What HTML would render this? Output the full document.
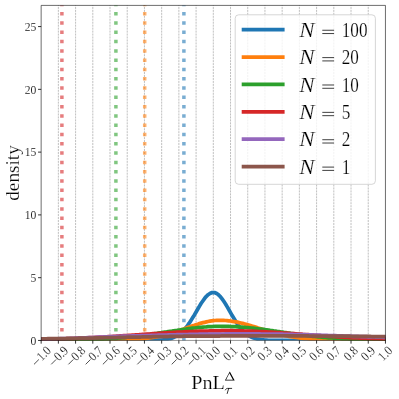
<!DOCTYPE html>
<html><head><meta charset="utf-8"><title>density</title>
<style>
html,body{margin:0;padding:0;background:#fff;}
body{width:399px;height:399px;overflow:hidden;font-family:"Liberation Serif",serif;}
svg{display:block;will-change:transform;}
text{font-family:"Liberation Serif",serif;fill:#000;stroke:#fff;stroke-width:0.2px;}
.t{stroke-width:0.16px;}
</style></head><body>
<svg width="399" height="399" viewBox="0 0 399 399">
<rect width="399" height="399" fill="#fff"/>
<defs><clipPath id="ax"><rect x="41.15" y="5.4" width="344.3" height="335.05"/></clipPath></defs>

<g stroke="#969696" stroke-width="0.6" stroke-dasharray="2.07 0.89" fill="none">
<line x1="58.36" y1="340.45" x2="58.36" y2="5.4"/>
<line x1="75.58" y1="340.45" x2="75.58" y2="5.4"/>
<line x1="92.80" y1="340.45" x2="92.80" y2="5.4"/>
<line x1="110.01" y1="340.45" x2="110.01" y2="5.4"/>
<line x1="127.22" y1="340.45" x2="127.22" y2="5.4"/>
<line x1="144.44" y1="340.45" x2="144.44" y2="5.4"/>
<line x1="161.66" y1="340.45" x2="161.66" y2="5.4"/>
<line x1="178.87" y1="340.45" x2="178.87" y2="5.4"/>
<line x1="196.09" y1="340.45" x2="196.09" y2="5.4"/>
<line x1="213.30" y1="340.45" x2="213.30" y2="5.4"/>
<line x1="230.52" y1="340.45" x2="230.52" y2="5.4"/>
<line x1="247.73" y1="340.45" x2="247.73" y2="5.4"/>
<line x1="264.94" y1="340.45" x2="264.94" y2="5.4"/>
<line x1="282.16" y1="340.45" x2="282.16" y2="5.4"/>
<line x1="299.38" y1="340.45" x2="299.38" y2="5.4"/>
<line x1="316.59" y1="340.45" x2="316.59" y2="5.4"/>
<line x1="333.81" y1="340.45" x2="333.81" y2="5.4"/>
<line x1="351.02" y1="340.45" x2="351.02" y2="5.4"/>
<line x1="368.24" y1="340.45" x2="368.24" y2="5.4"/>
</g>
<g clip-path="url(#ax)" fill="none">
<line x1="61.9" y1="340.75" x2="61.9" y2="0.40000000000000036" stroke="#d62728" stroke-opacity="0.6" stroke-width="3.5" stroke-dasharray="3.5 5.794"/>
<line x1="115.9" y1="340.75" x2="115.9" y2="0.40000000000000036" stroke="#2ca02c" stroke-opacity="0.6" stroke-width="3.5" stroke-dasharray="3.5 5.794"/>
<line x1="144.7" y1="340.75" x2="144.7" y2="0.40000000000000036" stroke="#ff7f0e" stroke-opacity="0.6" stroke-width="3.5" stroke-dasharray="3.5 5.794"/>
<line x1="183.9" y1="340.75" x2="183.9" y2="0.40000000000000036" stroke="#1f77b4" stroke-opacity="0.6" stroke-width="3.5" stroke-dasharray="3.5 5.794"/>
<path d="M34.3,340.4 L36.0,340.4 L37.7,340.4 L39.4,340.4 L41.1,340.4 L42.9,340.4 L44.6,340.4 L46.3,340.4 L48.0,340.4 L49.8,340.4 L51.5,340.4 L53.2,340.4 L54.9,340.4 L56.6,340.4 L58.4,340.4 L60.1,340.4 L61.8,340.4 L63.5,340.4 L65.3,340.4 L67.0,340.4 L68.7,340.4 L70.4,340.4 L72.1,340.4 L73.9,340.4 L75.6,340.4 L77.3,340.4 L79.0,340.4 L80.7,340.4 L82.5,340.4 L84.2,340.4 L85.9,340.4 L87.6,340.4 L89.4,340.4 L91.1,340.4 L92.8,340.4 L94.5,340.4 L96.2,340.4 L98.0,340.4 L99.7,340.4 L101.4,340.4 L103.1,340.4 L104.8,340.4 L106.6,340.4 L108.3,340.4 L110.0,340.4 L111.7,340.4 L113.5,340.4 L115.2,340.4 L116.9,340.4 L118.6,340.4 L120.3,340.4 L122.1,340.4 L123.8,340.4 L125.5,340.4 L127.2,340.4 L128.9,340.4 L130.7,340.4 L132.4,340.4 L134.1,340.4 L135.8,340.4 L137.6,340.4 L139.3,340.4 L141.0,340.4 L142.7,340.4 L144.4,340.4 L146.2,340.4 L147.9,340.4 L149.6,340.4 L151.3,340.4 L153.0,340.4 L154.8,340.3 L156.5,340.3 L158.2,340.2 L159.9,340.1 L161.7,340.0 L163.4,339.8 L165.1,339.6 L166.8,339.4 L168.5,339.0 L170.3,338.6 L172.0,338.1 L173.7,337.4 L175.4,336.6 L177.1,335.6 L178.9,334.5 L180.6,333.1 L182.3,331.6 L184.0,329.8 L185.8,327.8 L187.5,325.6 L189.2,323.2 L190.9,320.6 L192.6,317.8 L194.4,314.9 L196.1,312.0 L197.8,309.0 L199.5,306.1 L201.2,303.3 L203.0,300.7 L204.7,298.3 L206.4,296.3 L208.1,294.7 L209.9,293.5 L211.6,292.7 L213.3,292.5 L215.0,292.7 L216.7,293.5 L218.5,294.8 L220.2,296.5 L221.9,298.6 L223.6,301.0 L225.4,303.7 L227.1,306.6 L228.8,309.5 L230.5,312.6 L232.2,315.6 L234.0,318.5 L235.7,321.3 L237.4,323.9 L239.1,326.3 L240.8,328.5 L242.6,330.5 L244.3,332.2 L246.0,333.7 L247.7,335.0 L249.5,336.1 L251.2,337.0 L252.9,337.7 L254.6,338.3 L256.3,338.8 L258.1,339.2 L259.8,339.5 L261.5,339.8 L263.2,339.9 L264.9,340.1 L266.7,340.2 L268.4,340.3 L270.1,340.3 L271.8,340.4 L273.6,340.4 L275.3,340.4 L277.0,340.4 L278.7,340.4 L280.4,340.4 L282.2,340.4 L283.9,340.4 L285.6,340.4 L287.3,340.4 L289.0,340.4 L290.8,340.4 L292.5,340.4 L294.2,340.4 L295.9,340.4 L297.7,340.4 L299.4,340.4 L301.1,340.4 L302.8,340.4 L304.5,340.4 L306.3,340.4 L308.0,340.4 L309.7,340.4 L311.4,340.4 L313.1,340.4 L314.9,340.4 L316.6,340.4 L318.3,340.4 L320.0,340.4 L321.8,340.4 L323.5,340.4 L325.2,340.4 L326.9,340.4 L328.6,340.4 L330.4,340.4 L332.1,340.4 L333.8,340.4 L335.5,340.4 L337.2,340.4 L339.0,340.4 L340.7,340.4 L342.4,340.4 L344.1,340.4 L345.9,340.4 L347.6,340.4 L349.3,340.4 L351.0,340.4 L352.7,340.4 L354.5,340.4 L356.2,340.4 L357.9,340.4 L359.6,340.4 L361.3,340.4 L363.1,340.4 L364.8,340.4 L366.5,340.4 L368.2,340.4 L370.0,340.4 L371.7,340.4 L373.4,340.4 L375.1,340.4 L376.8,340.4 L378.6,340.4 L380.3,340.4 L382.0,340.4 L383.7,340.4 L385.4,340.4 L387.2,340.4 L388.9,340.4 L390.6,340.4 L392.3,340.4" stroke="#1f77b4" stroke-width="3.75" stroke-linejoin="round" fill="none"/>
<path d="M34.3,340.4 L36.0,340.4 L37.7,340.4 L39.4,340.4 L41.1,340.4 L42.9,340.4 L44.6,340.4 L46.3,340.4 L48.0,340.4 L49.8,340.4 L51.5,340.4 L53.2,340.4 L54.9,340.4 L56.6,340.4 L58.4,340.4 L60.1,340.4 L61.8,340.4 L63.5,340.4 L65.3,340.4 L67.0,340.4 L68.7,340.4 L70.4,340.4 L72.1,340.4 L73.9,340.4 L75.6,340.4 L77.3,340.4 L79.0,340.4 L80.7,340.4 L82.5,340.4 L84.2,340.4 L85.9,340.4 L87.6,340.4 L89.4,340.4 L91.1,340.4 L92.8,340.4 L94.5,340.4 L96.2,340.4 L98.0,340.4 L99.7,340.4 L101.4,340.4 L103.1,340.4 L104.8,340.4 L106.6,340.4 L108.3,340.3 L110.0,340.3 L111.7,340.3 L113.5,340.3 L115.2,340.3 L116.9,340.2 L118.6,340.2 L120.3,340.1 L122.1,340.1 L123.8,340.1 L125.5,340.0 L127.2,339.9 L128.9,339.8 L130.7,339.8 L132.4,339.7 L134.1,339.6 L135.8,339.4 L137.6,339.3 L139.3,339.2 L141.0,339.0 L142.7,338.8 L144.4,338.7 L146.2,338.5 L147.9,338.2 L149.6,338.0 L151.3,337.7 L153.0,337.4 L154.8,337.1 L156.5,336.8 L158.2,336.5 L159.9,336.1 L161.7,335.7 L163.4,335.3 L165.1,334.9 L166.8,334.4 L168.5,333.9 L170.3,333.4 L172.0,332.9 L173.7,332.4 L175.4,331.8 L177.1,331.2 L178.9,330.7 L180.6,330.1 L182.3,329.5 L184.0,328.9 L185.8,328.2 L187.5,327.6 L189.2,327.0 L190.9,326.4 L192.6,325.8 L194.4,325.3 L196.1,324.7 L197.8,324.2 L199.5,323.6 L201.2,323.1 L203.0,322.7 L204.7,322.3 L206.4,321.9 L208.1,321.5 L209.9,321.2 L211.6,320.9 L213.3,320.7 L215.0,320.5 L216.7,320.4 L218.5,320.3 L220.2,320.3 L221.9,320.3 L223.6,320.4 L225.4,320.5 L227.1,320.6 L228.8,320.8 L230.5,321.0 L232.2,321.3 L234.0,321.6 L235.7,321.9 L237.4,322.2 L239.1,322.6 L240.8,323.0 L242.6,323.4 L244.3,323.9 L246.0,324.3 L247.7,324.8 L249.5,325.3 L251.2,325.8 L252.9,326.4 L254.6,326.9 L256.3,327.4 L258.1,328.0 L259.8,328.5 L261.5,329.1 L263.2,329.6 L264.9,330.1 L266.7,330.7 L268.4,331.2 L270.1,331.7 L271.8,332.2 L273.6,332.7 L275.3,333.1 L277.0,333.6 L278.7,334.0 L280.4,334.4 L282.2,334.9 L283.9,335.2 L285.6,335.6 L287.3,336.0 L289.0,336.3 L290.8,336.6 L292.5,336.9 L294.2,337.2 L295.9,337.5 L297.7,337.7 L299.4,338.0 L301.1,338.2 L302.8,338.4 L304.5,338.6 L306.3,338.7 L308.0,338.9 L309.7,339.1 L311.4,339.2 L313.1,339.3 L314.9,339.4 L316.6,339.5 L318.3,339.6 L320.0,339.7 L321.8,339.8 L323.5,339.9 L325.2,339.9 L326.9,340.0 L328.6,340.1 L330.4,340.1 L332.1,340.1 L333.8,340.2 L335.5,340.2 L337.2,340.2 L339.0,340.3 L340.7,340.3 L342.4,340.3 L344.1,340.3 L345.9,340.3 L347.6,340.4 L349.3,340.4 L351.0,340.4 L352.7,340.4 L354.5,340.4 L356.2,340.4 L357.9,340.4 L359.6,340.4 L361.3,340.4 L363.1,340.4 L364.8,340.4 L366.5,340.4 L368.2,340.4 L370.0,340.4 L371.7,340.4 L373.4,340.4 L375.1,340.4 L376.8,340.4 L378.6,340.4 L380.3,340.4 L382.0,340.4 L383.7,340.4 L385.4,340.4 L387.2,340.4 L388.9,340.4 L390.6,340.4 L392.3,340.4" stroke="#ff7f0e" stroke-width="3.75" stroke-linejoin="round" fill="none"/>
<path d="M34.3,340.4 L36.0,340.4 L37.7,340.4 L39.4,340.4 L41.1,340.4 L42.9,340.4 L44.6,340.4 L46.3,340.4 L48.0,340.4 L49.8,340.3 L51.5,340.3 L53.2,340.3 L54.9,340.3 L56.6,340.3 L58.4,340.3 L60.1,340.3 L61.8,340.2 L63.5,340.2 L65.3,340.2 L67.0,340.2 L68.7,340.2 L70.4,340.1 L72.1,340.1 L73.9,340.1 L75.6,340.0 L77.3,340.0 L79.0,340.0 L80.7,339.9 L82.5,339.9 L84.2,339.8 L85.9,339.8 L87.6,339.7 L89.4,339.7 L91.1,339.6 L92.8,339.5 L94.5,339.5 L96.2,339.4 L98.0,339.3 L99.7,339.2 L101.4,339.2 L103.1,339.1 L104.8,339.0 L106.6,338.9 L108.3,338.8 L110.0,338.7 L111.7,338.5 L113.5,338.4 L115.2,338.3 L116.9,338.2 L118.6,338.0 L120.3,337.9 L122.1,337.7 L123.8,337.6 L125.5,337.4 L127.2,337.2 L128.9,337.0 L130.7,336.9 L132.4,336.7 L134.1,336.5 L135.8,336.3 L137.6,336.1 L139.3,335.9 L141.0,335.6 L142.7,335.4 L144.4,335.2 L146.2,335.0 L147.9,334.7 L149.6,334.5 L151.3,334.2 L153.0,334.0 L154.8,333.7 L156.5,333.5 L158.2,333.2 L159.9,332.9 L161.7,332.7 L163.4,332.4 L165.1,332.1 L166.8,331.9 L168.5,331.6 L170.3,331.3 L172.0,331.1 L173.7,330.8 L175.4,330.5 L177.1,330.3 L178.9,330.0 L180.6,329.8 L182.3,329.5 L184.0,329.3 L185.8,329.1 L187.5,328.8 L189.2,328.6 L190.9,328.4 L192.6,328.2 L194.4,328.0 L196.1,327.8 L197.8,327.6 L199.5,327.4 L201.2,327.3 L203.0,327.1 L204.7,327.0 L206.4,326.9 L208.1,326.7 L209.9,326.6 L211.6,326.6 L213.3,326.5 L215.0,326.4 L216.7,326.4 L218.5,326.3 L220.2,326.3 L221.9,326.3 L223.6,326.3 L225.4,326.3 L227.1,326.4 L228.8,326.4 L230.5,326.5 L232.2,326.5 L234.0,326.6 L235.7,326.7 L237.4,326.8 L239.1,326.9 L240.8,327.0 L242.6,327.2 L244.3,327.3 L246.0,327.5 L247.7,327.6 L249.5,327.8 L251.2,328.0 L252.9,328.2 L254.6,328.4 L256.3,328.6 L258.1,328.8 L259.8,329.0 L261.5,329.2 L263.2,329.4 L264.9,329.7 L266.7,329.9 L268.4,330.1 L270.1,330.4 L271.8,330.6 L273.6,330.9 L275.3,331.1 L277.0,331.4 L278.7,331.6 L280.4,331.9 L282.2,332.1 L283.9,332.4 L285.6,332.6 L287.3,332.9 L289.0,333.1 L290.8,333.4 L292.5,333.6 L294.2,333.9 L295.9,334.1 L297.7,334.3 L299.4,334.6 L301.1,334.8 L302.8,335.0 L304.5,335.2 L306.3,335.4 L308.0,335.7 L309.7,335.9 L311.4,336.1 L313.1,336.3 L314.9,336.4 L316.6,336.6 L318.3,336.8 L320.0,337.0 L321.8,337.2 L323.5,337.3 L325.2,337.5 L326.9,337.6 L328.6,337.8 L330.4,337.9 L332.1,338.0 L333.8,338.2 L335.5,338.3 L337.2,338.4 L339.0,338.5 L340.7,338.6 L342.4,338.8 L344.1,338.9 L345.9,338.9 L347.6,339.0 L349.3,339.1 L351.0,339.2 L352.7,339.3 L354.5,339.4 L356.2,339.4 L357.9,339.5 L359.6,339.6 L361.3,339.6 L363.1,339.7 L364.8,339.7 L366.5,339.8 L368.2,339.8 L370.0,339.9 L371.7,339.9 L373.4,340.0 L375.1,340.0 L376.8,340.0 L378.6,340.1 L380.3,340.1 L382.0,340.1 L383.7,340.1 L385.4,340.2 L387.2,340.2 L388.9,340.2 L390.6,340.2 L392.3,340.2" stroke="#2ca02c" stroke-width="3.75" stroke-linejoin="round" fill="none"/>
<path d="M34.3,339.7 L36.0,339.6 L37.7,339.6 L39.4,339.5 L41.1,339.5 L42.9,339.5 L44.6,339.4 L46.3,339.4 L48.0,339.3 L49.8,339.3 L51.5,339.2 L53.2,339.2 L54.9,339.1 L56.6,339.1 L58.4,339.0 L60.1,339.0 L61.8,338.9 L63.5,338.8 L65.3,338.8 L67.0,338.7 L68.7,338.7 L70.4,338.6 L72.1,338.5 L73.9,338.5 L75.6,338.4 L77.3,338.3 L79.0,338.2 L80.7,338.2 L82.5,338.1 L84.2,338.0 L85.9,337.9 L87.6,337.8 L89.4,337.7 L91.1,337.7 L92.8,337.6 L94.5,337.5 L96.2,337.4 L98.0,337.3 L99.7,337.2 L101.4,337.1 L103.1,337.0 L104.8,336.9 L106.6,336.8 L108.3,336.7 L110.0,336.6 L111.7,336.5 L113.5,336.4 L115.2,336.3 L116.9,336.2 L118.6,336.1 L120.3,335.9 L122.1,335.8 L123.8,335.7 L125.5,335.6 L127.2,335.5 L128.9,335.4 L130.7,335.3 L132.4,335.1 L134.1,335.0 L135.8,334.9 L137.6,334.8 L139.3,334.7 L141.0,334.5 L142.7,334.4 L144.4,334.3 L146.2,334.2 L147.9,334.1 L149.6,334.0 L151.3,333.8 L153.0,333.7 L154.8,333.6 L156.5,333.5 L158.2,333.4 L159.9,333.3 L161.7,333.2 L163.4,333.1 L165.1,332.9 L166.8,332.8 L168.5,332.7 L170.3,332.6 L172.0,332.5 L173.7,332.4 L175.4,332.3 L177.1,332.2 L178.9,332.1 L180.6,332.0 L182.3,332.0 L184.0,331.9 L185.8,331.8 L187.5,331.7 L189.2,331.6 L190.9,331.5 L192.6,331.5 L194.4,331.4 L196.1,331.3 L197.8,331.3 L199.5,331.2 L201.2,331.1 L203.0,331.1 L204.7,331.0 L206.4,331.0 L208.1,331.0 L209.9,330.9 L211.6,330.9 L213.3,330.8 L215.0,330.8 L216.7,330.8 L218.5,330.8 L220.2,330.8 L221.9,330.7 L223.6,330.7 L225.4,330.7 L227.1,330.7 L228.8,330.7 L230.5,330.7 L232.2,330.7 L234.0,330.8 L235.7,330.8 L237.4,330.8 L239.1,330.8 L240.8,330.9 L242.6,330.9 L244.3,331.0 L246.0,331.0 L247.7,331.1 L249.5,331.1 L251.2,331.2 L252.9,331.2 L254.6,331.3 L256.3,331.4 L258.1,331.5 L259.8,331.5 L261.5,331.6 L263.2,331.7 L264.9,331.8 L266.7,331.9 L268.4,332.0 L270.1,332.1 L271.8,332.2 L273.6,332.3 L275.3,332.4 L277.0,332.5 L278.7,332.6 L280.4,332.7 L282.2,332.9 L283.9,333.0 L285.6,333.1 L287.3,333.2 L289.0,333.3 L290.8,333.5 L292.5,333.6 L294.2,333.7 L295.9,333.8 L297.7,334.0 L299.4,334.1 L301.1,334.2 L302.8,334.4 L304.5,334.5 L306.3,334.6 L308.0,334.7 L309.7,334.9 L311.4,335.0 L313.1,335.1 L314.9,335.3 L316.6,335.4 L318.3,335.5 L320.0,335.6 L321.8,335.8 L323.5,335.9 L325.2,336.0 L326.9,336.1 L328.6,336.3 L330.4,336.4 L332.1,336.5 L333.8,336.6 L335.5,336.7 L337.2,336.8 L339.0,336.9 L340.7,337.1 L342.4,337.2 L344.1,337.3 L345.9,337.4 L347.6,337.5 L349.3,337.6 L351.0,337.7 L352.7,337.8 L354.5,337.9 L356.2,337.9 L357.9,338.0 L359.6,338.1 L361.3,338.2 L363.1,338.3 L364.8,338.4 L366.5,338.5 L368.2,338.5 L370.0,338.6 L371.7,338.7 L373.4,338.8 L375.1,338.8 L376.8,338.9 L378.6,339.0 L380.3,339.0 L382.0,339.1 L383.7,339.1 L385.4,339.2 L387.2,339.2 L388.9,339.3 L390.6,339.3 L392.3,339.4" stroke="#d62728" stroke-width="3.75" stroke-linejoin="round" fill="none"/>
<path d="M34.3,339.3 L36.0,339.3 L37.7,339.3 L39.4,339.2 L41.1,339.2 L42.9,339.2 L44.6,339.1 L46.3,339.1 L48.0,339.0 L49.8,339.0 L51.5,339.0 L53.2,338.9 L54.9,338.9 L56.6,338.8 L58.4,338.8 L60.1,338.7 L61.8,338.7 L63.5,338.6 L65.3,338.6 L67.0,338.5 L68.7,338.5 L70.4,338.4 L72.1,338.4 L73.9,338.3 L75.6,338.2 L77.3,338.2 L79.0,338.1 L80.7,338.0 L82.5,338.0 L84.2,337.9 L85.9,337.8 L87.6,337.7 L89.4,337.6 L91.1,337.6 L92.8,337.5 L94.5,337.4 L96.2,337.3 L98.0,337.2 L99.7,337.1 L101.4,337.1 L103.1,337.0 L104.8,336.9 L106.6,336.8 L108.3,336.8 L110.0,336.7 L111.7,336.6 L113.5,336.5 L115.2,336.5 L116.9,336.4 L118.6,336.4 L120.3,336.3 L122.1,336.2 L123.8,336.2 L125.5,336.1 L127.2,336.1 L128.9,336.0 L130.7,336.0 L132.4,335.9 L134.1,335.9 L135.8,335.8 L137.6,335.8 L139.3,335.8 L141.0,335.7 L142.7,335.7 L144.4,335.6 L146.2,335.6 L147.9,335.5 L149.6,335.5 L151.3,335.4 L153.0,335.4 L154.8,335.3 L156.5,335.3 L158.2,335.2 L159.9,335.2 L161.7,335.1 L163.4,335.1 L165.1,335.0 L166.8,335.0 L168.5,334.9 L170.3,334.9 L172.0,334.9 L173.7,334.8 L175.4,334.8 L177.1,334.7 L178.9,334.7 L180.6,334.6 L182.3,334.6 L184.0,334.6 L185.8,334.5 L187.5,334.5 L189.2,334.4 L190.9,334.4 L192.6,334.4 L194.4,334.3 L196.1,334.3 L197.8,334.3 L199.5,334.2 L201.2,334.2 L203.0,334.2 L204.7,334.2 L206.4,334.1 L208.1,334.1 L209.9,334.1 L211.6,334.1 L213.3,334.0 L215.0,334.0 L216.7,334.0 L218.5,334.0 L220.2,334.0 L221.9,334.0 L223.6,334.0 L225.4,333.9 L227.1,333.9 L228.8,333.9 L230.5,333.9 L232.2,333.9 L234.0,333.9 L235.7,333.9 L237.4,333.9 L239.1,333.9 L240.8,333.9 L242.6,333.9 L244.3,333.9 L246.0,333.9 L247.7,333.9 L249.5,333.9 L251.2,333.9 L252.9,333.9 L254.6,333.9 L256.3,333.9 L258.1,333.9 L259.8,333.9 L261.5,334.0 L263.2,334.0 L264.9,334.0 L266.7,334.0 L268.4,334.0 L270.1,334.0 L271.8,334.1 L273.6,334.1 L275.3,334.1 L277.0,334.1 L278.7,334.2 L280.4,334.2 L282.2,334.2 L283.9,334.3 L285.6,334.3 L287.3,334.3 L289.0,334.4 L290.8,334.4 L292.5,334.4 L294.2,334.5 L295.9,334.5 L297.7,334.6 L299.4,334.6 L301.1,334.7 L302.8,334.7 L304.5,334.7 L306.3,334.8 L308.0,334.8 L309.7,334.9 L311.4,334.9 L313.1,335.0 L314.9,335.0 L316.6,335.1 L318.3,335.1 L320.0,335.2 L321.8,335.3 L323.5,335.3 L325.2,335.4 L326.9,335.4 L328.6,335.5 L330.4,335.5 L332.1,335.6 L333.8,335.6 L335.5,335.7 L337.2,335.8 L339.0,335.8 L340.7,335.9 L342.4,335.9 L344.1,336.0 L345.9,336.0 L347.6,336.1 L349.3,336.2 L351.0,336.2 L352.7,336.3 L354.5,336.3 L356.2,336.4 L357.9,336.4 L359.6,336.5 L361.3,336.6 L363.1,336.6 L364.8,336.7 L366.5,336.7 L368.2,336.8 L370.0,336.8 L371.7,336.9 L373.4,336.9 L375.1,337.0 L376.8,337.0 L378.6,337.1 L380.3,337.2 L382.0,337.2 L383.7,337.3 L385.4,337.3 L387.2,337.4 L388.9,337.4 L390.6,337.5 L392.3,337.5" stroke="#9467bd" stroke-width="3.75" stroke-linejoin="round" fill="none"/>
<path d="M34.3,339.0 L36.0,338.9 L37.7,338.9 L39.4,338.9 L41.1,338.8 L42.9,338.8 L44.6,338.8 L46.3,338.8 L48.0,338.7 L49.8,338.7 L51.5,338.7 L53.2,338.6 L54.9,338.6 L56.6,338.6 L58.4,338.6 L60.1,338.5 L61.8,338.5 L63.5,338.5 L65.3,338.5 L67.0,338.4 L68.7,338.4 L70.4,338.4 L72.1,338.3 L73.9,338.3 L75.6,338.3 L77.3,338.3 L79.0,338.2 L80.7,338.2 L82.5,338.2 L84.2,338.1 L85.9,338.1 L87.6,338.1 L89.4,338.0 L91.1,338.0 L92.8,338.0 L94.5,337.9 L96.2,337.9 L98.0,337.9 L99.7,337.8 L101.4,337.8 L103.1,337.8 L104.8,337.7 L106.6,337.7 L108.3,337.6 L110.0,337.6 L111.7,337.6 L113.5,337.5 L115.2,337.5 L116.9,337.5 L118.6,337.4 L120.3,337.4 L122.1,337.4 L123.8,337.3 L125.5,337.3 L127.2,337.2 L128.9,337.2 L130.7,337.2 L132.4,337.1 L134.1,337.1 L135.8,337.1 L137.6,337.0 L139.3,337.0 L141.0,337.0 L142.7,336.9 L144.4,336.9 L146.2,336.9 L147.9,336.8 L149.6,336.8 L151.3,336.8 L153.0,336.7 L154.8,336.7 L156.5,336.7 L158.2,336.6 L159.9,336.6 L161.7,336.6 L163.4,336.5 L165.1,336.5 L166.8,336.5 L168.5,336.5 L170.3,336.4 L172.0,336.4 L173.7,336.4 L175.4,336.4 L177.1,336.3 L178.9,336.3 L180.6,336.3 L182.3,336.3 L184.0,336.2 L185.8,336.2 L187.5,336.2 L189.2,336.2 L190.9,336.2 L192.6,336.2 L194.4,336.1 L196.1,336.1 L197.8,336.1 L199.5,336.1 L201.2,336.1 L203.0,336.1 L204.7,336.0 L206.4,336.0 L208.1,336.0 L209.9,336.0 L211.6,336.0 L213.3,336.0 L215.0,336.0 L216.7,336.0 L218.5,336.0 L220.2,336.0 L221.9,335.9 L223.6,335.9 L225.4,335.9 L227.1,335.9 L228.8,335.9 L230.5,335.9 L232.2,335.9 L234.0,335.9 L235.7,335.9 L237.4,335.9 L239.1,335.9 L240.8,335.9 L242.6,335.9 L244.3,335.9 L246.0,335.9 L247.7,335.9 L249.5,335.9 L251.2,335.9 L252.9,335.9 L254.6,335.9 L256.3,335.9 L258.1,335.9 L259.8,335.9 L261.5,335.9 L263.2,335.9 L264.9,335.9 L266.7,335.9 L268.4,335.9 L270.1,335.9 L271.8,335.9 L273.6,335.9 L275.3,335.9 L277.0,335.9 L278.7,335.9 L280.4,335.9 L282.2,335.9 L283.9,335.9 L285.6,335.9 L287.3,335.9 L289.0,335.9 L290.8,335.9 L292.5,335.9 L294.2,335.9 L295.9,335.9 L297.7,335.9 L299.4,335.9 L301.1,335.9 L302.8,335.9 L304.5,335.9 L306.3,335.9 L308.0,335.9 L309.7,336.0 L311.4,336.0 L313.1,336.0 L314.9,336.0 L316.6,336.0 L318.3,336.0 L320.0,336.0 L321.8,336.0 L323.5,336.0 L325.2,336.0 L326.9,336.1 L328.6,336.1 L330.4,336.1 L332.1,336.1 L333.8,336.1 L335.5,336.1 L337.2,336.1 L339.0,336.2 L340.7,336.2 L342.4,336.2 L344.1,336.2 L345.9,336.2 L347.6,336.2 L349.3,336.2 L351.0,336.3 L352.7,336.3 L354.5,336.3 L356.2,336.3 L357.9,336.3 L359.6,336.3 L361.3,336.4 L363.1,336.4 L364.8,336.4 L366.5,336.4 L368.2,336.4 L370.0,336.4 L371.7,336.5 L373.4,336.5 L375.1,336.5 L376.8,336.5 L378.6,336.5 L380.3,336.6 L382.0,336.6 L383.7,336.6 L385.4,336.6 L387.2,336.6 L388.9,336.6 L390.6,336.7 L392.3,336.7" stroke="#8c564b" stroke-width="3.75" stroke-linejoin="round" fill="none"/>
</g>
<path d="M41.15,340.84999999999997V5.4H385.45V340.84999999999997" fill="none" stroke="#000" stroke-opacity="0.72" stroke-width="0.8"/>
<path d="M40.75,340.45H385.84999999999997" fill="none" stroke="#000" stroke-opacity="0.5" stroke-width="0.8"/>
<g stroke="#000" stroke-width="0.8">
<line x1="41.15" y1="340.45" x2="41.15" y2="343.65"/>
<line x1="58.36" y1="340.45" x2="58.36" y2="343.65"/>
<line x1="75.58" y1="340.45" x2="75.58" y2="343.65"/>
<line x1="92.80" y1="340.45" x2="92.80" y2="343.65"/>
<line x1="110.01" y1="340.45" x2="110.01" y2="343.65"/>
<line x1="127.22" y1="340.45" x2="127.22" y2="343.65"/>
<line x1="144.44" y1="340.45" x2="144.44" y2="343.65"/>
<line x1="161.66" y1="340.45" x2="161.66" y2="343.65"/>
<line x1="178.87" y1="340.45" x2="178.87" y2="343.65"/>
<line x1="196.09" y1="340.45" x2="196.09" y2="343.65"/>
<line x1="213.30" y1="340.45" x2="213.30" y2="343.65"/>
<line x1="230.52" y1="340.45" x2="230.52" y2="343.65"/>
<line x1="247.73" y1="340.45" x2="247.73" y2="343.65"/>
<line x1="264.94" y1="340.45" x2="264.94" y2="343.65"/>
<line x1="282.16" y1="340.45" x2="282.16" y2="343.65"/>
<line x1="299.38" y1="340.45" x2="299.38" y2="343.65"/>
<line x1="316.59" y1="340.45" x2="316.59" y2="343.65"/>
<line x1="333.81" y1="340.45" x2="333.81" y2="343.65"/>
<line x1="351.02" y1="340.45" x2="351.02" y2="343.65"/>
<line x1="368.24" y1="340.45" x2="368.24" y2="343.65"/>
<line x1="385.45" y1="340.45" x2="385.45" y2="343.65"/>
<line x1="41.15" y1="340.45" x2="38.05" y2="340.45"/>
<line x1="41.15" y1="277.68" x2="38.05" y2="277.68"/>
<line x1="41.15" y1="214.90" x2="38.05" y2="214.90"/>
<line x1="41.15" y1="152.12" x2="38.05" y2="152.12"/>
<line x1="41.15" y1="89.35" x2="38.05" y2="89.35"/>
<line x1="41.15" y1="26.57" x2="38.05" y2="26.57"/>
</g>
<text class="t" x="30.50" y="344.70" font-size="13.1" textLength="5.8" lengthAdjust="spacingAndGlyphs">0</text>
<text class="t" x="30.50" y="281.93" font-size="13.1" textLength="5.8" lengthAdjust="spacingAndGlyphs">5</text>
<text class="t" x="24.70" y="219.15" font-size="13.1" textLength="11.6" lengthAdjust="spacingAndGlyphs">10</text>
<text class="t" x="24.70" y="156.38" font-size="13.1" textLength="11.6" lengthAdjust="spacingAndGlyphs">15</text>
<text class="t" x="24.70" y="93.60" font-size="13.1" textLength="11.6" lengthAdjust="spacingAndGlyphs">20</text>
<text class="t" x="24.70" y="30.82" font-size="13.1" textLength="11.6" lengthAdjust="spacingAndGlyphs">25</text>
<g transform="translate(40.75,356.33) rotate(-45)"><line x1="-10.45" y1="0.9" x2="-3.55" y2="0.9" stroke="#000" stroke-width="0.65"/><text class="t" x="-2.95" y="4.35" font-size="13.1" textLength="14.2" lengthAdjust="spacingAndGlyphs">1.0</text></g>
<g transform="translate(57.96,356.33) rotate(-45)"><line x1="-10.45" y1="0.9" x2="-3.55" y2="0.9" stroke="#000" stroke-width="0.65"/><text class="t" x="-2.95" y="4.35" font-size="13.1" textLength="14.2" lengthAdjust="spacingAndGlyphs">0.9</text></g>
<g transform="translate(75.18,356.33) rotate(-45)"><line x1="-10.45" y1="0.9" x2="-3.55" y2="0.9" stroke="#000" stroke-width="0.65"/><text class="t" x="-2.95" y="4.35" font-size="13.1" textLength="14.2" lengthAdjust="spacingAndGlyphs">0.8</text></g>
<g transform="translate(92.40,356.33) rotate(-45)"><line x1="-10.45" y1="0.9" x2="-3.55" y2="0.9" stroke="#000" stroke-width="0.65"/><text class="t" x="-2.95" y="4.35" font-size="13.1" textLength="14.2" lengthAdjust="spacingAndGlyphs">0.7</text></g>
<g transform="translate(109.61,356.33) rotate(-45)"><line x1="-10.45" y1="0.9" x2="-3.55" y2="0.9" stroke="#000" stroke-width="0.65"/><text class="t" x="-2.95" y="4.35" font-size="13.1" textLength="14.2" lengthAdjust="spacingAndGlyphs">0.6</text></g>
<g transform="translate(126.82,356.33) rotate(-45)"><line x1="-10.45" y1="0.9" x2="-3.55" y2="0.9" stroke="#000" stroke-width="0.65"/><text class="t" x="-2.95" y="4.35" font-size="13.1" textLength="14.2" lengthAdjust="spacingAndGlyphs">0.5</text></g>
<g transform="translate(144.04,356.33) rotate(-45)"><line x1="-10.45" y1="0.9" x2="-3.55" y2="0.9" stroke="#000" stroke-width="0.65"/><text class="t" x="-2.95" y="4.35" font-size="13.1" textLength="14.2" lengthAdjust="spacingAndGlyphs">0.4</text></g>
<g transform="translate(161.25,356.33) rotate(-45)"><line x1="-10.45" y1="0.9" x2="-3.55" y2="0.9" stroke="#000" stroke-width="0.65"/><text class="t" x="-2.95" y="4.35" font-size="13.1" textLength="14.2" lengthAdjust="spacingAndGlyphs">0.3</text></g>
<g transform="translate(178.47,356.33) rotate(-45)"><line x1="-10.45" y1="0.9" x2="-3.55" y2="0.9" stroke="#000" stroke-width="0.65"/><text class="t" x="-2.95" y="4.35" font-size="13.1" textLength="14.2" lengthAdjust="spacingAndGlyphs">0.2</text></g>
<g transform="translate(195.69,356.33) rotate(-45)"><line x1="-10.45" y1="0.9" x2="-3.55" y2="0.9" stroke="#000" stroke-width="0.65"/><text class="t" x="-2.95" y="4.35" font-size="13.1" textLength="14.2" lengthAdjust="spacingAndGlyphs">0.1</text></g>
<g transform="translate(212.90,353.40) rotate(-45)"><text class="t" x="-7.10" y="4.35" font-size="13.1" textLength="14.2" lengthAdjust="spacingAndGlyphs">0.0</text></g>
<g transform="translate(230.12,353.40) rotate(-45)"><text class="t" x="-7.10" y="4.35" font-size="13.1" textLength="14.2" lengthAdjust="spacingAndGlyphs">0.1</text></g>
<g transform="translate(247.33,353.40) rotate(-45)"><text class="t" x="-7.10" y="4.35" font-size="13.1" textLength="14.2" lengthAdjust="spacingAndGlyphs">0.2</text></g>
<g transform="translate(264.55,353.40) rotate(-45)"><text class="t" x="-7.10" y="4.35" font-size="13.1" textLength="14.2" lengthAdjust="spacingAndGlyphs">0.3</text></g>
<g transform="translate(281.76,353.40) rotate(-45)"><text class="t" x="-7.10" y="4.35" font-size="13.1" textLength="14.2" lengthAdjust="spacingAndGlyphs">0.4</text></g>
<g transform="translate(298.98,353.40) rotate(-45)"><text class="t" x="-7.10" y="4.35" font-size="13.1" textLength="14.2" lengthAdjust="spacingAndGlyphs">0.5</text></g>
<g transform="translate(316.19,353.40) rotate(-45)"><text class="t" x="-7.10" y="4.35" font-size="13.1" textLength="14.2" lengthAdjust="spacingAndGlyphs">0.6</text></g>
<g transform="translate(333.41,353.40) rotate(-45)"><text class="t" x="-7.10" y="4.35" font-size="13.1" textLength="14.2" lengthAdjust="spacingAndGlyphs">0.7</text></g>
<g transform="translate(350.62,353.40) rotate(-45)"><text class="t" x="-7.10" y="4.35" font-size="13.1" textLength="14.2" lengthAdjust="spacingAndGlyphs">0.8</text></g>
<g transform="translate(367.84,353.40) rotate(-45)"><text class="t" x="-7.10" y="4.35" font-size="13.1" textLength="14.2" lengthAdjust="spacingAndGlyphs">0.9</text></g>
<g transform="translate(385.05,353.40) rotate(-45)"><text class="t" x="-7.10" y="4.35" font-size="13.1" textLength="14.2" lengthAdjust="spacingAndGlyphs">1.0</text></g>
<text transform="translate(18.8,173) rotate(-90)" x="0" y="0" font-size="18.1" text-anchor="middle" textLength="55.5" lengthAdjust="spacingAndGlyphs">density</text>
<text x="191.2" y="388.9" font-size="19.8" textLength="33.6" lengthAdjust="spacingAndGlyphs">PnL</text>
<path d="M224.9,380.4L229.8,371.4L234.7,380.4ZM226.1,379.75L232.9,379.75L229.4,373.2Z" fill="#000" fill-rule="evenodd"/>
<path d="M225.4,389.9C225.9,388.9 226.5,388.4 227.5,388.4L231.7,388.4M228.7,388.4L227.2,393.5" fill="none" stroke="#000" stroke-width="0.8" stroke-linecap="round"/>
<rect x="235.2" y="14.8" width="140.2" height="169.5" rx="3.5" ry="3.5" fill="#fff" fill-opacity="0.8" stroke="#ccc" stroke-opacity="0.8" stroke-width="1"/>
<line x1="241.7" y1="29.70" x2="284.6" y2="29.70" stroke="#1f77b4" stroke-width="3.75"/>
<text x="299.3" y="36.80" font-size="20.6" font-style="italic" textLength="15.3" lengthAdjust="spacingAndGlyphs">N</text>
<path d="M322.3,30.25h11.8M322.3,33.55h11.8" stroke="#000" stroke-width="0.75" fill="none"/>
<text x="341.8" y="36.80" font-size="20.3" textLength="25.7" lengthAdjust="spacingAndGlyphs">100</text>
<line x1="241.7" y1="57.07" x2="284.6" y2="57.07" stroke="#ff7f0e" stroke-width="3.75"/>
<text x="299.3" y="64.17" font-size="20.6" font-style="italic" textLength="15.3" lengthAdjust="spacingAndGlyphs">N</text>
<path d="M322.3,57.62h11.8M322.3,60.92h11.8" stroke="#000" stroke-width="0.75" fill="none"/>
<text x="341.8" y="64.17" font-size="20.3" textLength="17.1" lengthAdjust="spacingAndGlyphs">20</text>
<line x1="241.7" y1="84.44" x2="284.6" y2="84.44" stroke="#2ca02c" stroke-width="3.75"/>
<text x="299.3" y="91.54" font-size="20.6" font-style="italic" textLength="15.3" lengthAdjust="spacingAndGlyphs">N</text>
<path d="M322.3,84.99h11.8M322.3,88.29h11.8" stroke="#000" stroke-width="0.75" fill="none"/>
<text x="341.8" y="91.54" font-size="20.3" textLength="17.1" lengthAdjust="spacingAndGlyphs">10</text>
<line x1="241.7" y1="111.81" x2="284.6" y2="111.81" stroke="#d62728" stroke-width="3.75"/>
<text x="299.3" y="118.91" font-size="20.6" font-style="italic" textLength="15.3" lengthAdjust="spacingAndGlyphs">N</text>
<path d="M322.3,112.36h11.8M322.3,115.66h11.8" stroke="#000" stroke-width="0.75" fill="none"/>
<text x="341.8" y="118.91" font-size="20.3" textLength="8.6" lengthAdjust="spacingAndGlyphs">5</text>
<line x1="241.7" y1="139.18" x2="284.6" y2="139.18" stroke="#9467bd" stroke-width="3.75"/>
<text x="299.3" y="146.28" font-size="20.6" font-style="italic" textLength="15.3" lengthAdjust="spacingAndGlyphs">N</text>
<path d="M322.3,139.73h11.8M322.3,143.03h11.8" stroke="#000" stroke-width="0.75" fill="none"/>
<text x="341.8" y="146.28" font-size="20.3" textLength="8.6" lengthAdjust="spacingAndGlyphs">2</text>
<line x1="241.7" y1="166.55" x2="284.6" y2="166.55" stroke="#8c564b" stroke-width="3.75"/>
<text x="299.3" y="173.65" font-size="20.6" font-style="italic" textLength="15.3" lengthAdjust="spacingAndGlyphs">N</text>
<path d="M322.3,167.10h11.8M322.3,170.40h11.8" stroke="#000" stroke-width="0.75" fill="none"/>
<text x="341.8" y="173.65" font-size="20.3" textLength="8.6" lengthAdjust="spacingAndGlyphs">1</text>
</svg></body></html>
